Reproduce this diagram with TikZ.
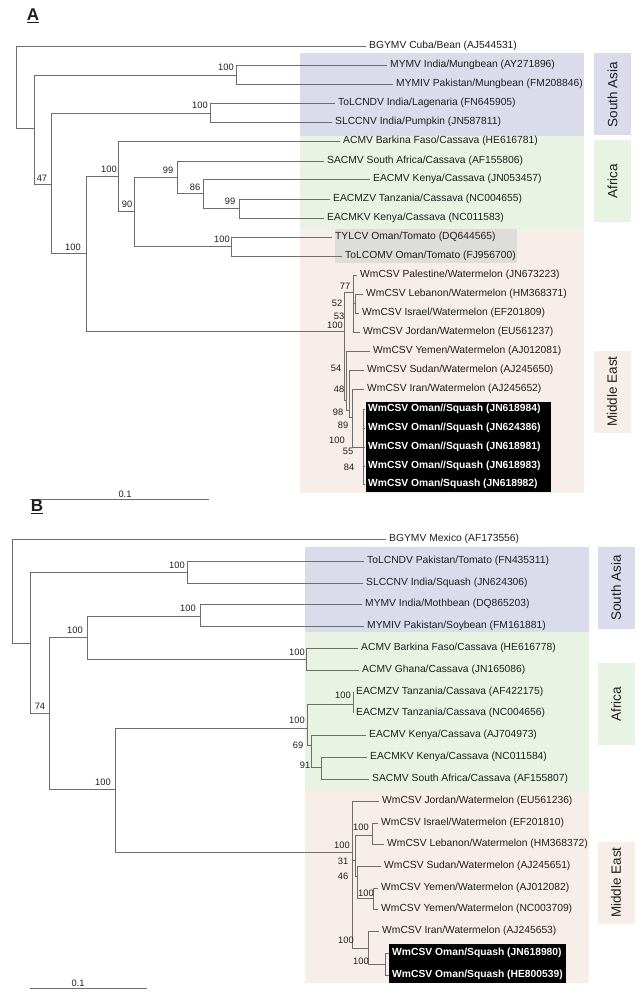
\documentclass[tikz,border=0pt]{standalone}
\usepackage{fontspec}
\setmainfont{Liberation Sans}
\usepackage{tikz}
\definecolor{treegrey}{RGB}{110,110,110}
\definecolor{leafink}{RGB}{30,30,30}
\definecolor{sablue}{RGB}{218,220,236}
\definecolor{afgreen}{RGB}{233,243,227}
\definecolor{mepink}{RGB}{247,238,233}
\definecolor{tomgrey}{RGB}{221,221,219}
\tikzset{branch/.style = {draw=treegrey, line width=0.9pt},
         leaf/.style = {anchor=west, inner sep=3pt, text=leafink,
                        font=\fontsize{10.3}{12}\selectfont},
         omanleaf/.style = {leaf, text=white,
                            font=\bfseries\fontsize{10.3}{12}\selectfont},
         boot/.style = {inner sep=0pt, text=leafink, font=\fontsize{9.3}{10}\selectfont},
         regionbox/.style = {rotate=90, minimum width=82pt, minimum height=37pt,
                             inner sep=0pt, text=leafink, font=\fontsize{13.5}{14}\selectfont},
         panel/.style = {text=leafink, font=\bfseries\fontsize{17}{17}\selectfont}}

\begin{document}
\begin{tikzpicture}[x=1pt, y=-1pt]
    \useasboundingbox (0,0) rectangle (644,1000);

    \fill [sablue] (300,53) rectangle (584,136);
    \fill [afgreen] (300,136) rectangle (584,229);
    \fill [mepink] (300,229) rectangle (584,493);
    \fill [tomgrey] (335,229) rectangle (517,263);
    \fill [black] (366,402) rectangle (551,492);
    \node [regionbox, fill=sablue] (a-sa) at (612.5,94.5) {South Asia};
    \node [regionbox, fill=afgreen] (a-af) at (612.5,181) {Africa};
    \node [regionbox, fill=mepink] (a-me) at (612,391.5) {Middle East};
    \node [panel] (a-title) at (33,16) {\underline{A}};

    \node [leaf] (a-bgymv) at (366,46) {BGYMV Cuba/Bean (AJ544531)};
    \node [leaf] (a-mymv) at (387,65) {MYMV India/Mungbean (AY271896)};
    \node [leaf] (a-mymiv) at (393,84) {MYMIV Pakistan/Mungbean (FM208846)};
    \node [leaf] (a-tolcndv) at (335,103) {ToLCNDV India/Lagenaria (FN645905)};
    \node [leaf] (a-slccnv) at (332,122) {SLCCNV India/Pumpkin (JN587811)};
    \node [leaf] (a-acmv) at (340,141) {ACMV Barkina Faso/Cassava (HE616781)};
    \node [leaf] (a-sacmv) at (324,161) {SACMV South Africa/Cassava (AF155806)};
    \node [leaf] (a-eacmv) at (370,179) {EACMV Kenya/Cassava (JN053457)};
    \node [leaf] (a-eacmzv) at (330,199) {EACMZV Tanzania/Cassava (NC004655)};
    \node [leaf] (a-eacmkv) at (324,218) {EACMKV Kenya/Cassava (NC011583)};
    \node [leaf] (a-tylcv) at (332,237) {TYLCV Oman/Tomato (DQ644565)};
    \node [leaf] (a-tolcomv) at (342,256) {ToLCOMV Oman/Tomato (FJ956700)};
    \node [leaf] (a-pal) at (357,275) {WmCSV Palestine/Watermelon (JN673223)};
    \node [leaf] (a-leb) at (363,294) {WmCSV Lebanon/Watermelon (HM368371)};
    \node [leaf] (a-isr) at (359,313) {WmCSV Israel/Watermelon (EF201809)};
    \node [leaf] (a-jor) at (360,332) {WmCSV Jordan/Watermelon (EU561237)};
    \node [leaf] (a-yem) at (370,351) {WmCSV Yemen/Watermelon (AJ012081)};
    \node [leaf] (a-sud) at (364,370) {WmCSV Sudan/Watermelon (AJ245650)};
    \node [leaf] (a-ira) at (364,389) {WmCSV Iran/Watermelon (AJ245652)};
    \node [omanleaf] (a-om1) at (365,409) {WmCSV Oman//Squash (JN618984)};
    \node [omanleaf] (a-om2) at (365,428) {WmCSV Oman//Squash (JN624386)};
    \node [omanleaf] (a-om3) at (365,447) {WmCSV Oman//Squash (JN618981)};
    \node [omanleaf] (a-om4) at (365,466) {WmCSV Oman//Squash (JN618983)};
    \node [omanleaf] (a-om5) at (365,484) {WmCSV Oman/Squash (JN618982)};

    \coordinate (aR) at (16,128);
    \coordinate (a1) at (34,128);
    \coordinate (a2) at (236,75);
    \coordinate (a3) at (51,184);
    \coordinate (a4) at (210,113);
    \coordinate (a5) at (86,253);
    \coordinate (a6) at (118,176);
    \coordinate (a7) at (134,211);
    \coordinate (a8) at (177,177);
    \coordinate (a9) at (231,246);
    \coordinate (a10) at (203,193);
    \coordinate (a11) at (239,208);
    \coordinate (aME) at (344,331);
    \coordinate (a12) at (353,292);
    \coordinate (a14) at (355,303);
    \coordinate (a13) at (346,400);
    \coordinate (a15) at (349,410);
    \coordinate (a16) at (352,417);
    \coordinate (a17) at (363,447);

    \foreach \p/\c in {aR/a-bgymv.west, aR/a1, a1/a2, a1/a3, a2/a-mymv.west, a2/a-mymiv.west,
                       a3/a4, a3/a5, a4/a-tolcndv.west, a4/a-slccnv.west, a5/a6, a5/aME,
                       a6/a-acmv.west, a6/a7, a7/a8, a7/a9, a8/a-sacmv.west, a8/a10,
                       a10/a-eacmv.west, a10/a11, a11/a-eacmzv.west, a11/a-eacmkv.west,
                       a9/a-tylcv.west, a9/a-tolcomv.west, aME/a12, aME/a13,
                       a12/a-pal.west, a12/a14, a12/a-jor.west, a14/a-leb.west, a14/a-isr.west,
                       a13/a-yem.west, a13/a15, a15/a-sud.west, a15/a16, a16/a-ira.west, a16/a17,
                       a17/a-om1.west, a17/a-om2.west, a17/a-om3.west, a17/a-om4.west, a17/a-om5.west}
        \draw [branch] (\p) |- (\c);

    \foreach \x/\y/\v [count=\i] in {226/67/100, 200/105/100, 42/178/47, 109/169/100, 168/170/99,
                                     195/187/86, 127/204/90, 230/201/99, 222/239/100, 73/247/100,
                                     345/286/77, 337/303/52, 339/316/53, 335/325/100, 336/368/54,
                                     339/389/48, 338/412/98, 343/425/89, 337/440/100, 348/451/55,
                                     349/467/84}
        \node [boot] (a-bs\i) at (\x,\y) {\v};

    \coordinate (a-sc0) at (30,499);
    \coordinate (a-sc1) at (209,499);
    \draw [branch] (a-sc0) -- (a-sc1);
    \node [boot, anchor=south] (a-scl) at (125,497.5) {0.1};

    \fill [sablue] (305,547) rectangle (589,632);
    \fill [afgreen] (305,632) rectangle (589,791);
    \fill [mepink] (305,791) rectangle (589,983);
    \fill [black] (389,944) rectangle (566,983);
    \node [regionbox, fill=sablue] (b-sa) at (616,588) {South Asia};
    \node [regionbox, fill=afgreen] (b-af) at (616,704) {Africa};
    \node [regionbox, fill=mepink] (b-me) at (616,882.5) {Middle East};
    \node [panel] (b-title) at (37,507) {\underline{B}};

    \node [leaf] (b-bgymv) at (386,539) {BGYMV Mexico (AF173556)};
    \node [leaf] (b-tolcndv) at (364,561) {ToLCNDV Pakistan/Tomato (FN435311)};
    \node [leaf] (b-slccnv) at (363,583) {SLCCNV India/Squash (JN624306)};
    \node [leaf] (b-mymv) at (362,604) {MYMV India/Mothbean (DQ865203)};
    \node [leaf] (b-mymiv) at (364,626) {MYMIV Pakistan/Soybean (FM161881)};
    \node [leaf] (b-acmv) at (358,648) {ACMV Barkina Faso/Cassava (HE616778)};
    \node [leaf] (b-acmvgh) at (359,670) {ACMV Ghana/Cassava (JN165086)};
    \node [leaf] (b-eacmzv1) at (353,692) {EACMZV Tanzania/Cassava (AF422175)};
    \node [leaf] (b-eacmzv2) at (353,713) {EACMZV Tanzania/Cassava (NC004656)};
    \node [leaf] (b-eacmv) at (366,735) {EACMV Kenya/Cassava (AJ704973)};
    \node [leaf] (b-eacmkv) at (367,757) {EACMKV Kenya/Cassava (NC011584)};
    \node [leaf] (b-sacmv) at (369,779) {SACMV South Africa/Cassava (AF155807)};
    \node [leaf] (b-jor) at (379,801) {WmCSV Jordan/Watermelon (EU561236)};
    \node [leaf] (b-isr) at (378,823) {WmCSV Israel/Watermelon (EF201810)};
    \node [leaf] (b-leb) at (384,844) {WmCSV Lebanon/Watermelon (HM368372)};
    \node [leaf] (b-sud) at (381,866) {WmCSV Sudan/Watermelon (AJ245651)};
    \node [leaf] (b-yem1) at (378,888) {WmCSV Yemen/Watermelon (AJ012082)};
    \node [leaf] (b-yem2) at (378,909) {WmCSV Yemen/Watermelon (NC003709)};
    \node [leaf] (b-ira) at (379,931) {WmCSV Iran/Watermelon (AJ245653)};
    \node [omanleaf] (b-om1) at (389,953) {WmCSV Oman/Squash (JN618980)};
    \node [omanleaf] (b-om2) at (389,975) {WmCSV Oman/Squash (HE800539)};

    \coordinate (bR) at (12,643);
    \coordinate (b1) at (30,643);
    \coordinate (b2) at (187,572);
    \coordinate (b3) at (49,713);
    \coordinate (b4) at (87,637);
    \coordinate (b5) at (115,789);
    \coordinate (b6) at (200,616);
    \coordinate (b7) at (306,659);
    \coordinate (b8) at (307,728);
    \coordinate (b9) at (353,704);
    \coordinate (b10) at (311,745);
    \coordinate (b11) at (321,767);
    \coordinate (bME) at (352,852);
    \coordinate (b31) at (355,860);
    \coordinate (bIL) at (372,835);
    \coordinate (b46) at (357,876);
    \coordinate (bY) at (373,898);
    \coordinate (bIr) at (368,948);
    \coordinate (bO) at (385,964);

    \foreach \p/\c in {bR/b-bgymv.west, bR/b1, b1/b2, b1/b3, b2/b-tolcndv.west, b2/b-slccnv.west,
                       b3/b4, b3/b5, b4/b6, b4/b7, b6/b-mymv.west, b6/b-mymiv.west,
                       b7/b-acmv.west, b7/b-acmvgh.west, b5/b8, b5/bME, b8/b9, b8/b10,
                       b9/b-eacmzv1.west, b9/b-eacmzv2.west, b10/b-eacmv.west, b10/b11,
                       b11/b-eacmkv.west, b11/b-sacmv.west, bME/b-jor.west, bME/b31, bME/bIr,
                       b31/bIL, b31/b46, bIL/b-isr.west, bIL/b-leb.west, b46/b-sud.west, b46/bY,
                       bY/b-yem1.west, bY/b-yem2.west, bIr/b-ira.west, bIr/bO,
                       bO/b-om1.west, bO/b-om2.west}
        \draw [branch] (\p) |- (\c);

    \foreach \x/\y/\v [count=\i] in {177/565/100, 75/630/100, 188/608/100, 40/706/74, 297/652/100,
                                     297/720/100, 343/695/100, 298/745/69, 305/765/91, 103/782/100,
                                     342/845/100, 343/861/31, 343/876/46, 361/827/100, 366/893/100,
                                     346/940/100, 361/961/100}
        \node [boot] (b-bs\i) at (\x,\y) {\v};

    \coordinate (b-sc0) at (30,988);
    \coordinate (b-sc1) at (147,988);
    \draw [branch] (b-sc0) -- (b-sc1);
    \node [boot, anchor=south] (b-scl) at (78,986.5) {0.1};
\end{tikzpicture}
\end{document}
